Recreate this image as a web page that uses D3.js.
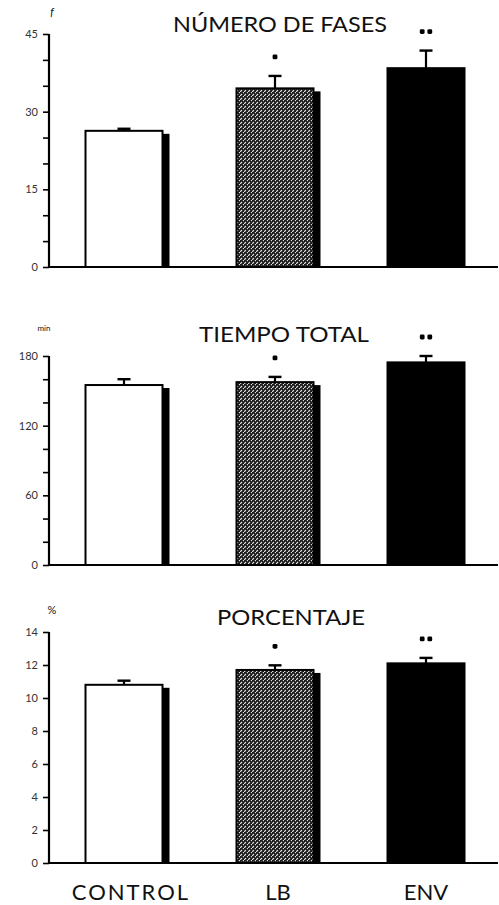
<!DOCTYPE html>
<html>
<head>
<meta charset="utf-8">
<script src="https://cdn.jsdelivr.net/npm/d3@7/dist/d3.min.js"></script>
<style>
  html, body { margin: 0; padding: 0; background: #fff; }
  svg { display: block; }
  text { font-family: Lato, "Open Sans", sans-serif; fill: #111; }
</style>
</head>
<body>
<svg id="chart" width="499" height="905"></svg>
<script>
// Groups along the x axis
const categories = ["CONTROL", "LB", "ENV"];

// Number of phases (f)
const fases = [26.3, 34.5, 38.4];
const fasesErr = [0.4, 2.4, 3.4];

// Total time (min)
const tiempo = [155, 157.5, 174.5];
const tiempoErr = [5, 4.5, 5.5];

// Percentage (%)
const porcentaje = [10.8, 11.7, 12.1];
const porcentajeErr = [0.25, 0.28, 0.33];

// Significance marks above each group
const signif = ["", "*", "**"];

// Axis ticks
const fasesTicks = [0, 5, 10, 15, 20, 25, 30, 35, 40, 45];
const fasesLabels = [0, 15, 30, 45];
const tiempoTicks = [0, 20, 40, 60, 80, 100, 120, 140, 160, 180];
const tiempoLabels = [0, 60, 120, 180];
const porcTicks = [0, 2, 4, 6, 8, 10, 12, 14];
const porcLabels = [0, 2, 4, 6, 8, 10, 12, 14];

const svg = d3.select("#chart");

// Hatched fill used for the LB group
const defs = svg.append("defs");
const pat = defs.append("pattern")
  .attr("id", "hatch")
  .attr("patternUnits", "userSpaceOnUse")
  .attr("width", 4).attr("height", 4);
pat.append("rect").attr("width", 4).attr("height", 4).attr("fill", "#1a1a1a");
pat.append("path").attr("d", "M0,4 L2,2 M3,1 L4,0")
  .attr("stroke", "#e8e8e8").attr("stroke-width", 1.1);

const fills = ["#fff", "url(#hatch)", "#000"];
const hasShadow = [true, true, false];

const x = d3.scalePoint().domain(categories).range([124, 426]);
const barW = 77;
const axisX = 49;
const rightX = 498;

const panels = [
  { title: "NÚMERO DE FASES", unit: "f", unitItalic: true, values: fases, errs: fasesErr,
    max: 45, ticks: fasesTicks, labels: fasesLabels, top: 34, bottom: 267,
    titleY: 32, titleX: 280, titleLen: 214, unitX: 52, unitY: 16 },
  { title: "TIEMPO TOTAL", unit: "min", unitItalic: false, values: tiempo, errs: tiempoErr,
    max: 180, ticks: tiempoTicks, labels: tiempoLabels, top: 356, bottom: 565,
    titleY: 342, titleX: 284, titleLen: 170, unitX: 44, unitY: 331 },
  { title: "PORCENTAJE", unit: "%", unitItalic: false, values: porcentaje, errs: porcentajeErr,
    max: 14, ticks: porcTicks, labels: porcLabels, top: 632, bottom: 863,
    titleY: 625, titleX: 291, titleLen: 148, unitX: 52, unitY: 614 }
];

panels.forEach(p => {
  const g = svg.append("g");
  const y = d3.scaleLinear().domain([0, p.max]).range([p.bottom, p.top]);

  // Left axis with tick marks
  const axis = d3.axisLeft(y).tickValues(p.ticks).tickSize(6).tickFormat("");
  const ag = g.append("g").attr("transform", `translate(${axisX},0)`).call(axis);
  ag.select(".domain").attr("stroke", "#000").attr("stroke-width", 2.2)
    .attr("d", `M0,${p.bottom}V${p.top}`);
  ag.selectAll(".tick line").attr("stroke", "#000").attr("stroke-width", 1.6);

  // Tick labels at the labelled positions
  g.selectAll(".lab").data(p.labels).join("text")
    .attr("x", axisX - 11).attr("y", d => y(d) + 4)
    .attr("text-anchor", "end").attr("font-size", 11).style("fill", "#333")
    .text(d => d);

  // Baseline
  g.append("line")
    .attr("x1", axisX - 1).attr("x2", rightX)
    .attr("y1", p.bottom).attr("y2", p.bottom)
    .attr("stroke", "#000").attr("stroke-width", 1.8);

  // Bar shadows on the right side
  g.selectAll(".shadow").data(categories.filter((c, i) => hasShadow[i])).join("rect")
    .attr("x", c => x(c) + barW / 2 - 1)
    .attr("y", c => y(p.values[categories.indexOf(c)]) + 3)
    .attr("width", 8)
    .attr("height", c => p.bottom - y(p.values[categories.indexOf(c)]) - 3)
    .attr("fill", "#000");

  // Bars
  g.selectAll(".bar").data(categories).join("rect")
    .attr("x", c => x(c) - barW / 2)
    .attr("y", (c, i) => y(p.values[i]))
    .attr("width", barW)
    .attr("height", (c, i) => p.bottom - y(p.values[i]))
    .attr("fill", (c, i) => fills[i])
    .attr("stroke", "#000").attr("stroke-width", 2);

  // Error bars (upper half)
  categories.forEach((c, i) => {
    const cx = x(c);
    const y0 = y(p.values[i]);
    const y1 = y(p.values[i] + p.errs[i]);
    g.append("line").attr("x1", cx).attr("x2", cx).attr("y1", y0).attr("y2", y1)
      .attr("stroke", "#000").attr("stroke-width", 2.2);
    g.append("line").attr("x1", cx - 6.5).attr("x2", cx + 6.5).attr("y1", y1).attr("y2", y1)
      .attr("stroke", "#000").attr("stroke-width", 2.4);

    // Significance dots
    const n = signif[i].length;
    const topY = y(p.values[i] + p.errs[i]) - 19;
    for (let k = 0; k < n; k++) {
      const dx = n === 1 ? 0 : (k === 0 ? -3.8 : 3.8);
      g.append("rect")
        .attr("x", cx + dx - 2.4).attr("y", topY - 2.4)
        .attr("width", 4.8).attr("height", 4.8).attr("rx", 1.4)
        .attr("fill", "#000");
    }
  });

  // Panel title
  g.append("text")
    .attr("x", p.titleX).attr("y", p.titleY)
    .attr("text-anchor", "middle").attr("font-size", 21)
    .attr("textLength", p.titleLen).attr("lengthAdjust", "spacingAndGlyphs")
    .text(p.title);

  // Unit label
  g.append("text")
    .attr("x", p.unitX).attr("y", p.unitY)
    .attr("text-anchor", "middle").attr("font-size", p.unit === "min" ? 8 : 11)
    .attr("font-style", p.unitItalic ? "italic" : "normal")
    .text(p.unit);
});

// Category labels beneath the bottom panel
svg.selectAll(".cat").data(categories).join("text")
  .attr("x", (c, i) => x(c) + [7, 3, 0][i])
  .attr("y", 900)
  .attr("text-anchor", "middle").attr("font-size", 22)
  .attr("letter-spacing", (c, i) => i === 0 ? 2 : 0)
  .text(c => c);
</script>
</body>
</html>
